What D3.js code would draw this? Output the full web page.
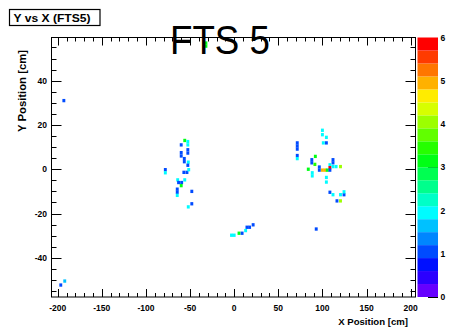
<!DOCTYPE html>
<html><head><meta charset="utf-8">
<script src="https://cdn.jsdelivr.net/npm/d3@7"></script>
<style>body{margin:0;background:#fff}svg{display:block}text{font-family:"Liberation Sans",Arial,sans-serif}</style>
</head><body><svg id="c" width="450" height="331"></svg>
<script>
// cell centres (cm) and contents
const cellX = [-56,-52.5,-52.5,-60,-52.5,-52.5,-60,-60,-56.5,-56.5,-52,-52.5,-57,-53.5,-51.5,-78,-78,-64,-56,-63,-59.5,-60,-64.5,-64.5,-64.5,-48,-48,-52,
 100,100,104.5,101,104.5,71.5,71.5,71.5,71.5,71.5,92,88,88,91.5,112,112,108.5,108.5,84,96.5,96.5,100,103,105.5,108.5,112,115.5,120.5,88.5,88.5,104.5,104.5,108.5,112,120.5,124.5,124.5,116.5,120.5,93,
 -3,0,5.5,9,13,14.5,17.5,21.5,
 -32,-32,-193,-196.5,-192];
const cellY = [13,12.5,11,11,8.8,7.3,7.5,6,4.8,3.4,3.2,1.8,-1.4,-1.4,-0.2,-0.2,-1.6,-4.8,-4.8,-6,-6,-7.4,-9,-10.4,-11.8,-10,-15.6,-17,
 17.6,15.6,14.4,11.9,11.9,11.9,10.5,9.1,6.2,4.8,5.8,4.3,2.9,2.2,4.3,2.9,2,0.7,0,1,-0.4,-0.4,-0.4,-0.4,-0.4,1.2,1.2,1.2,-1.6,-3,-3.7,-5.8,-10.4,-11.5,-11.5,-11.5,-10.2,-14.3,-14.3,-27,
 -29.8,-29.8,-28.9,-28.9,-27.7,-26.2,-26.2,-25.1,
 57,55.6,31,-52.3,-50.5];
const cellV = [3.2,2,2,1,1,1,1,1,1,1,2,1,1,1,2,1,2,2,2,1,1,3,1,1,2,1,1,2,
 2,2,2,2,1,1,1,1,1,2,3,1,1,3.5,1,1,2,6,3,1,1,5,4.9,3,1,2,2,4,2,2,2,2,1,2,2,1,2,1,4,1,
 2,2,3,1,2,1,1,1,
 3,3.2,1,1,1.5];
const xTicks = [-200,-150,-100,-50,0,50,100,150,200];
const yTicks = [-40,-20,0,20,40];
const zTicks = [0,1,2,3,4,5,6];

const xBin = 3.3, yBin = 1.5, nBands = 20, zMax = 6;
const svg = d3.select("#c");
svg.append("rect").attr("width",450).attr("height",331).attr("fill","#fff");
const L=51.5,R=415.5,T=37.5,B=297;
const x = d3.scaleLinear().domain([-207,205.5]).range([L,R]);
const y = d3.scaleLinear().domain([-57.7,59.5]).range([B,T]);
const z = d3.scaleLinear().domain([0,zMax]).range([B,T]);
const bandColor = i => d3.hsl(264*(1-i/(nBands-1)),1,0.5).toString();
const colorOf = v => bandColor(Math.max(0,Math.min(nBands-1,Math.floor(v/(zMax/nBands)))));

// cells
const cells = cellX.map((cx,i)=>({cx,cy:cellY[i],v:cellV[i]}));
svg.append("g").selectAll("rect").data(cells).join("rect")
  .attr("x",d=>x(d.cx-xBin/2)).attr("y",d=>y(d.cy+yBin/2))
  .attr("width",d=>x(d.cx+xBin/2)-x(d.cx-xBin/2))
  .attr("height",d=>y(d.cy-yBin/2)-y(d.cy+yBin/2))
  .attr("fill",d=>colorOf(d.v));

// frame
svg.append("rect").attr("x",L).attr("y",T).attr("width",R-L).attr("height",B-T)
  .attr("fill","none").attr("stroke","#000").attr("stroke-width",1);

// ticks
const g = svg.append("g").attr("stroke","#000").attr("stroke-width",1);
d3.range(-200,201,10).forEach(v=>{
  const len = v%50===0?8:4, px = Math.round(x(v))+0.5;
  g.append("line").attr("x1",px).attr("x2",px).attr("y1",B).attr("y2",B-len);
  g.append("line").attr("x1",px).attr("x2",px).attr("y1",T).attr("y2",T+len);
});
d3.range(-55,60,5).forEach(v=>{
  const len = v%20===0?10:5, py = Math.round(y(v))+0.5;
  g.append("line").attr("x1",L).attr("x2",L+len).attr("y1",py).attr("y2",py);
  g.append("line").attr("x1",R).attr("x2",R-len).attr("y1",py).attr("y2",py);
});

const lab = {"font-size":"8.5px","font-weight":"bold","fill":"#000"};
const setA=(s,o)=>{for(const k in o)s.attr(k,o[k]);return s;};
xTicks.forEach(v=>setA(svg.append("text"),lab).attr("x",x(v)).attr("y",311).attr("text-anchor","middle").text(v));
yTicks.forEach(v=>setA(svg.append("text"),lab).attr("x",47).attr("y",y(v)+3).attr("text-anchor","end").text(v));

svg.append("text").attr("x",408).attr("y",325).attr("text-anchor","end")
  .attr("font-size","9.6px").attr("font-weight","bold").text("X Position [cm]");
svg.append("text").attr("transform","translate(26,50) rotate(-90)").attr("text-anchor","end")
  .attr("font-size","10px").attr("font-weight","bold")
  .attr("textLength",82).attr("lengthAdjust","spacingAndGlyphs").text("Y Position [cm]");

// colour bar
const CL=417.5, CR=438;
svg.append("g").selectAll("rect").data(d3.range(nBands)).join("rect")
  .attr("x",CL).attr("width",CR-CL)
  .attr("y",i=>z((i+1)*zMax/nBands)).attr("height",i=>z(i*zMax/nBands)-z((i+1)*zMax/nBands))
  .attr("fill",i=>bandColor(i));
zTicks.forEach(v=>{
  const py = Math.round(z(v))+0.5;
  g.append("line").attr("x1",CR-10).attr("x2",CR).attr("y1",py).attr("y2",py);
  setA(svg.append("text"),lab).attr("x",440.5).attr("y",z(v)+3).text(v);
});

// title box
svg.append("rect").attr("x",9.5).attr("y",9.5).attr("width",90.5).attr("height",16)
  .attr("fill","#fff").attr("stroke","#000").attr("stroke-width",1.2);
svg.append("text").attr("x",13.5).attr("y",21.5).attr("font-size","11px").attr("font-weight","bold")
  .attr("textLength",77).attr("lengthAdjust","spacingAndGlyphs").text("Y vs X (FTS5)");

svg.append("text").attr("x",170).attr("y",53.5).attr("font-size","41px")
  .attr("textLength",100).attr("lengthAdjust","spacingAndGlyphs").text("FTS 5");
</script></body></html>
